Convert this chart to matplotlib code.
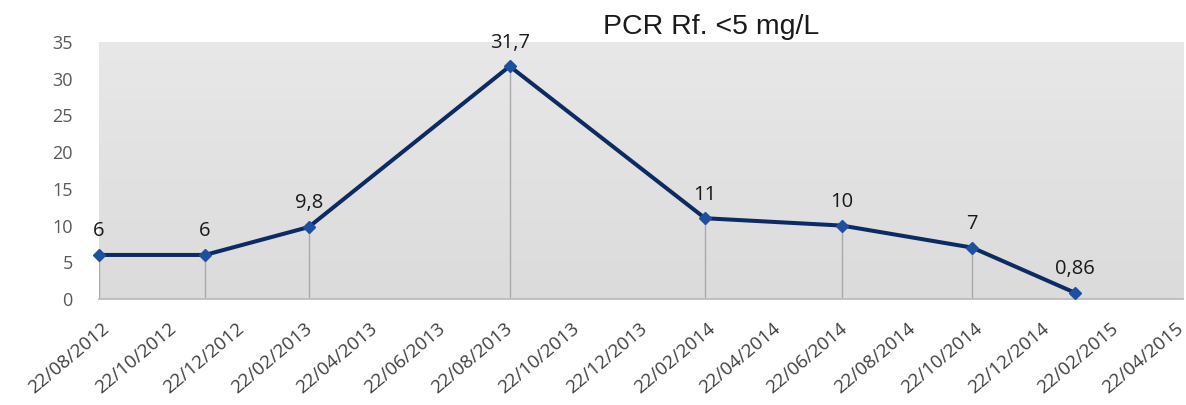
"""
PCR values over time, redrawn from an Excel-style line chart
"""

import pandas as pd
import numpy as np
import matplotlib
matplotlib.use('Agg')
import matplotlib.pyplot as plt
import matplotlib.transforms as mtransforms
from matplotlib.colors import LinearSegmentedColormap

# data
sample_dates = ['2012-08-22', '2012-11-26', '2013-02-28', '2013-08-29',
                '2014-02-22', '2014-06-26', '2014-10-22', '2015-01-23']
pcr_values = [6, 6, 9.8, 31.7, 11, 10, 7, 0.86]
value_labels = ['6', '6', '9,8', '31,7', '11', '10', '7', '0,86']
tick_labels = ['22/08/2012', '22/10/2012', '22/12/2012', '22/02/2013',
               '22/04/2013', '22/06/2013', '22/08/2013', '22/10/2013',
               '22/12/2013', '22/02/2014', '22/04/2014', '22/06/2014',
               '22/08/2014', '22/10/2014', '22/12/2014', '22/02/2015',
               '22/04/2015']
y_ticks = [0, 5, 10, 15, 20, 25, 30, 35]
title = 'PCR Rf. <5 mg/L'

dates = pd.to_datetime(sample_dates)
tick_dates = pd.to_datetime(tick_labels, format='%d/%m/%Y')

fig = plt.figure(figsize=(11.86, 4.05), dpi=100)
ax = fig.add_axes([0.0835, 0.2617, 0.914, 0.6346])

# light gray gradient plot area
bg = LinearSegmentedColormap.from_list('bg', ['#e8e8e8', '#dbdbdb'])
ax.imshow(np.linspace(0, 1, 256).reshape(-1, 1), cmap=bg, aspect='auto',
          extent=[0, 1, 0, 1], transform=ax.transAxes, origin='upper', zorder=0)

# drop lines from each point down to the axis
ax.vlines(dates, 0, pcr_values, colors='#a9a9a9', linewidth=1.0, zorder=1)

ax.plot(dates, pcr_values, color='#0c2b62', linewidth=2.9, zorder=3,
        marker='D', markersize=6.5, markerfacecolor='#1f50a0',
        markeredgecolor='#1f50a0', clip_on=False)

for d, v, lab in zip(dates, pcr_values, value_labels):
    ax.annotate(lab, (d, v), xytext=(0, 17), textcoords='offset points',
                ha='center', va='center', fontsize=14.5, color='#1a1a1a',
                family='Open Sans', annotation_clip=False)

ax.set_xlim(pd.Timestamp('2012-08-22'), pd.Timestamp('2015-05-01'))
ax.set_ylim(0, 35)

ax.set_yticks(y_ticks)
ax.set_yticklabels([str(t) for t in y_ticks], family='Open Sans',
                   fontsize=13, color='#595959')
ax.tick_params(axis='y', length=0, pad=19)

ax.set_xticks(tick_dates)
ax.set_xticklabels(tick_labels, rotation=40, ha='right', va='top',
                   rotation_mode='anchor', family='Open Sans',
                   fontsize=13.5, color='#404040')
ax.tick_params(axis='x', length=0, pad=15)
shift = mtransforms.ScaledTranslation(2 / 100, 0, fig.dpi_scale_trans)
for lbl in ax.get_xticklabels():
    lbl.set_transform(lbl.get_transform() + shift)

for side in ['left', 'right', 'top']:
    ax.spines[side].set_visible(False)
ax.spines['bottom'].set_color('#bdbdbd')
ax.spines['bottom'].set_linewidth(1.3)

fig.text(0.5995, 0.933, title, ha='center', va='center', fontsize=20.5,
         family='Liberation Sans', color='#1a1a1a')

fig.savefig('out.png', dpi=100)
